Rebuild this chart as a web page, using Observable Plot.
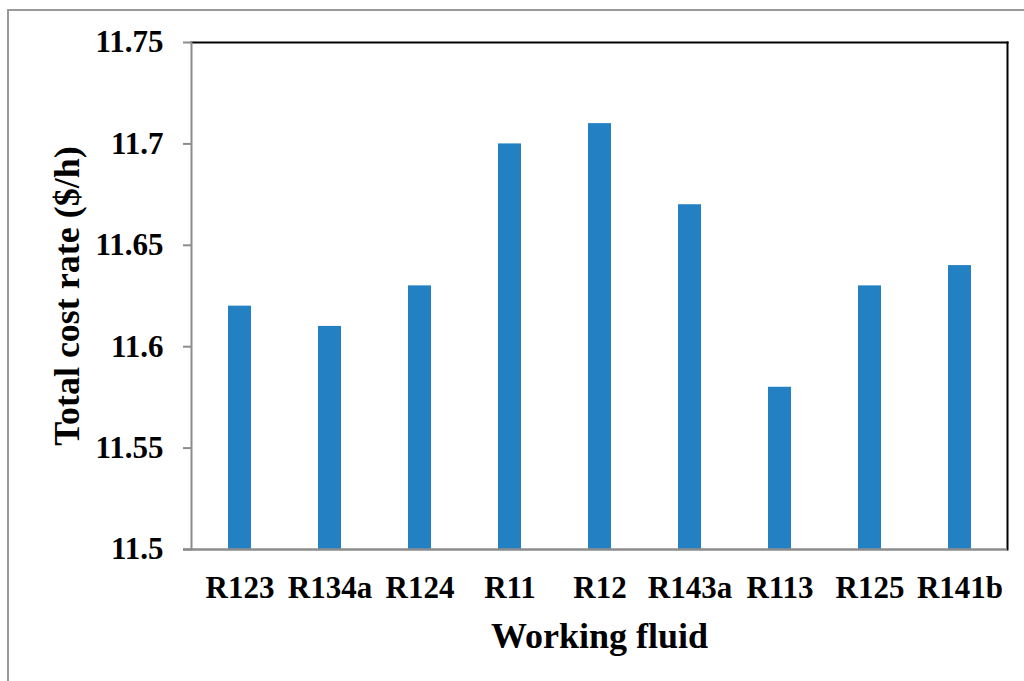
<!DOCTYPE html>
<html>
<head>
<meta charset="utf-8">
<script src="https://cdn.jsdelivr.net/npm/d3@7"></script>
<script src="https://cdn.jsdelivr.net/npm/@observablehq/plot@0.6"></script>
<style>
  html, body { margin: 0; padding: 0; background: #fff; overflow: hidden; }
  #wrap { position: relative; width: 1024px; height: 681px; }
  #border { position: absolute; left: 7px; top: 9px; width: 1100px; height: 800px; border: 2px solid #9a9a9a; box-sizing: border-box; }
  #chart { position: absolute; left: 0; top: 0; }
</style>
</head>
<body>
<div id="wrap"><div id="border"></div><div id="chart"></div></div>
<script>
const fluids = ["R123", "R134a", "R124", "R11", "R12", "R143a", "R113", "R125", "R141b"];
const costRates = [11.62, 11.61, 11.63, 11.70, 11.71, 11.67, 11.58, 11.63, 11.64];
const yTicks = [11.5, 11.55, 11.6, 11.65, 11.7, 11.75];
const yDomain = [11.5, 11.75];
const xTitle = "Working fluid";
const yTitle = "Total cost rate ($/h)";

const data = fluids.map((f, i) => ({fluid: f, value: costRates[i]}));
const font = "'Liberation Serif', 'Times New Roman', serif";
const gray = "#8c8c8c";

const chart = Plot.plot({
  width: 1024,
  height: 681,
  marginLeft: 191,
  marginRight: 17,
  marginTop: 42,
  marginBottom: 132,
  style: {fontFamily: font, fontWeight: "bold", background: "transparent", color: "#000"},
  x: {domain: fluids, paddingInner: 0.75, paddingOuter: 0.375},
  y: {domain: yDomain},
  marks: [
    Plot.barY(data, {x: "fluid", y1: () => yDomain[0], y2: "value", fill: "#2381C3"}),
    Plot.frame({anchor: "top", stroke: "#000", strokeWidth: 2}),
    Plot.frame({anchor: "right", stroke: "#000", strokeWidth: 2}),
    Plot.frame({anchor: "left", stroke: gray, strokeWidth: 2}),
    Plot.ruleY([yDomain[0]], {stroke: gray, strokeWidth: 2.5, insetLeft: -8}),
    Plot.axisY({ticks: yTicks, tickFormat: d => String(d), tickSize: 8, tickPadding: 20,
      stroke: gray, strokeWidth: 2, fontSize: 31, fontWeight: "bold", fill: "#000", label: null}),
    Plot.axisX({tickSize: 0, tickPadding: 26, fontSize: 31, fontWeight: "bold", fill: "#000", label: null}),
    Plot.text([xTitle], {frameAnchor: "bottom", lineAnchor: "bottom", dy: 98, fontSize: 36, fontWeight: "bold", fill: "#000"}),
    Plot.text([yTitle], {frameAnchor: "left", textAnchor: "middle", rotate: -90, lineAnchor: "bottom", dx: -113, fontSize: 36, fontWeight: "bold", fill: "#000"})
  ]
});
document.getElementById("chart").appendChild(chart);
</script>
</body>
</html>
